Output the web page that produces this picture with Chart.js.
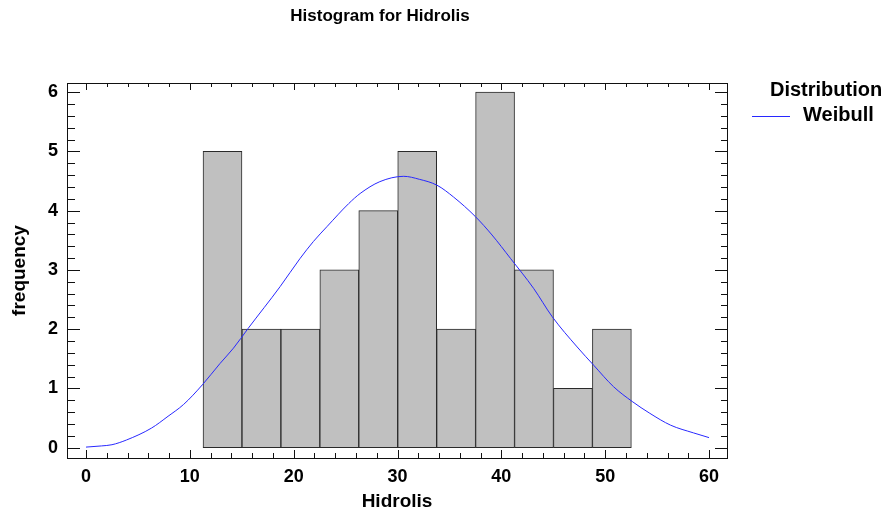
<!DOCTYPE html>
<html>
<head>
<meta charset="utf-8">
<title>Histogram for Hidrolis</title>
<script src="https://cdn.jsdelivr.net/npm/chart.js@4/dist/chart.umd.min.js"></script>
<style>
    html, body { margin: 0; padding: 0; background: #fff; }
    #wrap { width: 888px; height: 520px; position: relative; }
</style>
</head>
<body>
<div id="wrap"><canvas id="histogram-chart" width="888" height="520"></canvas></div>
<script>
// Histogram bins (centers of the classes) and counts
const binCenters = [13.145, 16.895, 20.645, 24.395, 28.145, 31.895, 35.645, 39.395, 43.145, 46.895, 50.645];
const binCounts = [5, 2, 2, 3, 4, 5, 2, 6, 3, 1, 2];

// Fitted Weibull curve
const curveX = [0, 1.5, 2.5, 3.9, 6.3, 7.9, 9.4, 11.2, 12.9, 14.2, 15.6, 18.7, 20.6, 21.9, 23.2, 25.3, 26.4, 28.3,
    30.6, 32.1, 33.8, 35.4, 37.5, 39.1, 40.9, 43.1, 44.9, 47.3, 48.9, 50.8, 52.6, 54.3, 56.3, 58.5, 60];
const curveY = [0.01, 0.03, 0.05, 0.13, 0.33, 0.53, 0.73, 1.06, 1.42, 1.68, 2.01, 2.72, 3.19, 3.48, 3.73, 4.12, 4.29, 4.49,
    4.58, 4.53, 4.43, 4.23, 3.90, 3.59, 3.19, 2.69, 2.21, 1.70, 1.39, 1.03, 0.78, 0.58, 0.38, 0.25, 0.17];

// Tick labels
const xTicks = [0, 10, 20, 30, 40, 50, 60];
const yTicks = [0, 1, 2, 3, 4, 5, 6];
const xMinorStep = 2;
const yMinorStep = 0.2;

const FONT = '"Liberation Sans", Arial, sans-serif';

// Frame, inner tick marks, titles and legend
const decorPlugin = {
    id: 'decor',
    afterDraw(chart) {
        const ctx = chart.ctx;
        const area = chart.chartArea;
        const xs = chart.scales.x;
        const ys = chart.scales.y;

        ctx.save();
        ctx.strokeStyle = '#111';
        ctx.lineWidth = 1;

        // frame
        ctx.strokeRect(Math.round(area.left) + 0.5, Math.round(area.top) + 0.5,
            Math.round(area.right - area.left), Math.round(area.bottom - area.top));

        const line = (x1, y1, x2, y2) => {
            ctx.beginPath();
            ctx.moveTo(x1, y1);
            ctx.lineTo(x2, y2);
            ctx.stroke();
        };

        // x ticks (bottom and top, pointing inwards)
        for (let v = xTicks[0]; v <= xTicks[xTicks.length - 1] + 1e-9; v += xMinorStep) {
            const major = xTicks.some(t => Math.abs(t - v) < 1e-6);
            const px = Math.round(xs.getPixelForValue(v)) + 0.5;
            line(px, area.bottom, px, area.bottom - (major ? 8 : 5));
            line(px, area.top, px, area.top + (major ? 7 : 4));
        }

        // y ticks (left and right, pointing inwards)
        for (let v = yTicks[0]; v <= yTicks[yTicks.length - 1] + 1e-9; v += yMinorStep) {
            const major = yTicks.some(t => Math.abs(t - v) < 1e-6);
            const py = Math.round(ys.getPixelForValue(v)) + 0.5;
            line(area.left, py, area.left + (major ? 13 : 8), py);
            line(area.right, py, area.right - (major ? 12 : 6), py);
        }

        // title
        ctx.fillStyle = '#000';
        ctx.textBaseline = 'middle';
        ctx.textAlign = 'center';
        ctx.font = 'bold 17px ' + FONT;
        ctx.fillText('Histogram for Hidrolis', 380, 16);

        // axis titles
        ctx.font = 'bold 19px ' + FONT;
        ctx.fillText('Hidrolis', (area.left + area.right) / 2, 502);
        ctx.save();
        ctx.translate(20, (area.top + area.bottom) / 2);
        ctx.rotate(-Math.PI / 2);
        ctx.fillText('frequency', 0, 0);
        ctx.restore();

        // legend
        ctx.textAlign = 'left';
        ctx.font = 'bold 20px ' + FONT;
        ctx.fillText('Distribution', 770, 90);
        ctx.fillText('Weibull', 803, 115);
        ctx.strokeStyle = 'rgb(40, 40, 255)';
        line(752, 116.5, 790, 116.5);

        ctx.restore();
    }
};

// Create histogram chart
const canvas = document.getElementById('histogram-chart');
new Chart(canvas.getContext('2d'), {
    type: 'bar',
    data: {
        datasets: [{
            type: 'line',
            label: 'Weibull',
            data: curveX.map((x, i) => ({ x: x, y: curveY[i] })),
            borderColor: 'rgb(40, 40, 255)',
            borderWidth: 1,
            pointRadius: 0,
            cubicInterpolationMode: 'monotone',
            fill: false,
            order: 0
        }, {
            type: 'bar',
            label: 'Hidrolis',
            data: binCenters.map((x, i) => ({ x: x, y: binCounts[i] })),
            backgroundColor: '#c0c0c0',
            borderColor: '#2a2a2a',
            borderWidth: 1,
            borderSkipped: false,
            barPercentage: 1,
            categoryPercentage: 1,
            order: 1
        }]
    },
    options: {
        responsive: false,
        animation: false,
        events: [],
        layout: {
            padding: { top: 83, right: 161, left: 0, bottom: 0 }
        },
        plugins: {
            legend: { display: false },
            title: { display: false },
            tooltip: { enabled: false }
        },
        scales: {
            x: {
                type: 'linear',
                offset: false,
                min: -1.83,
                max: 61.73,
                afterBuildTicks: scale => { scale.ticks = xTicks.map(v => ({ value: v })); },
                afterFit: scale => { scale.height = 62; },
                grid: { display: false, drawTicks: false, offset: false },
                border: { display: false },
                ticks: {
                    padding: 8,
                    maxRotation: 0,
                    color: '#000',
                    font: { family: FONT, size: 18, weight: 'bold' }
                }
            },
            y: {
                type: 'linear',
                min: -0.174,
                max: 6.155,
                afterBuildTicks: scale => { scale.ticks = yTicks.map(v => ({ value: v })); },
                afterFit: scale => { scale.width = 67; },
                grid: { display: false, drawTicks: false },
                border: { display: false },
                ticks: {
                    padding: 9,
                    color: '#000',
                    font: { family: FONT, size: 18, weight: 'bold' }
                }
            }
        }
    },
    plugins: [decorPlugin]
});
</script>
</body>
</html>
